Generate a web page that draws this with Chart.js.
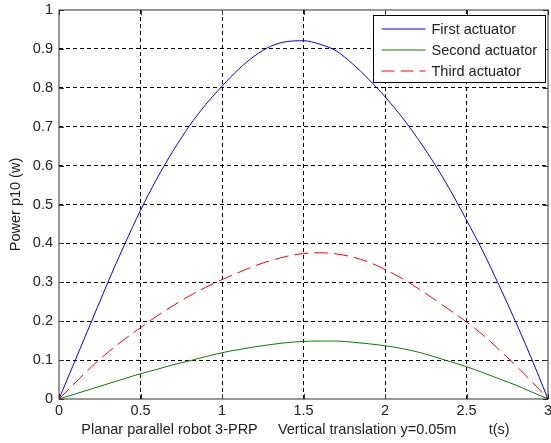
<!DOCTYPE html>
<html>
<head>
<meta charset="utf-8">
<script src="https://cdn.jsdelivr.net/npm/chart.js@4.4.0/dist/chart.umd.min.js"></script>
<style>
  html, body { margin: 0; padding: 0; background: #fff; }
  #wrap { width: 551px; height: 443px; }
</style>
</head>
<body>
<div id="wrap"><canvas id="powerChart"></canvas></div>
<script>
// t(s)
const timeValues = [0, 0.1, 0.2, 0.3, 0.4, 0.5, 0.6, 0.7, 0.8, 0.9, 1.0, 1.1, 1.2, 1.3, 1.4, 1.5,
    1.6, 1.7, 1.8, 1.9, 2.0, 2.1, 2.2, 2.3, 2.4, 2.5, 2.6, 2.7, 2.8, 2.9, 3.0];
// power p10 (w)
const firstActuator = [0, 0.1, 0.2, 0.3, 0.395, 0.485, 0.566, 0.638, 0.702, 0.757, 0.804, 0.847, 0.882, 0.907, 0.919, 0.921,
    0.912, 0.895, 0.862, 0.822, 0.777, 0.727, 0.67, 0.607, 0.537, 0.46, 0.38, 0.292, 0.2, 0.103, 0];
const secondActuator = [0, 0.013, 0.026, 0.039, 0.052, 0.065, 0.076, 0.088, 0.098, 0.109, 0.119, 0.127, 0.134, 0.14, 0.145, 0.148,
    0.149, 0.149, 0.146, 0.142, 0.137, 0.13, 0.121, 0.109, 0.096, 0.083, 0.068, 0.052, 0.036, 0.018, 0];
const thirdActuator = [0, 0.042, 0.083, 0.12, 0.153, 0.183, 0.213, 0.24, 0.265, 0.287, 0.307, 0.325, 0.342, 0.356, 0.367, 0.374,
    0.376, 0.373, 0.365, 0.352, 0.333, 0.311, 0.285, 0.257, 0.228, 0.198, 0.165, 0.127, 0.087, 0.045, 0];
const seriesLabels = ["First actuator", "Second actuator", "Third actuator"];

const FONT = "'Liberation Sans', Arial, sans-serif";
const FSIZE = 14.5;
const TEXT = "#222";
const styles = [
    { color: "#0000ff", dash: [] },
    { color: "#008000", dash: [] },
    { color: "#ff0000", dash: [14, 6] }
];

const toPoints = vals => vals.map((v, i) => ({ x: timeValues[i], y: v }));
const series = [firstActuator, secondActuator, thirdActuator];

const fmt = v => String(+(+v).toFixed(2));
const hideEdges = (lo, hi) => c => (c.tick && (Math.abs(c.tick.value - lo) < 1e-9 || Math.abs(c.tick.value - hi) < 1e-9)) ? "rgba(0,0,0,0)" : "#000";

// box, inward ticks and legend drawn like a matlab figure
const matlabFrame = {
    id: "matlabFrame",
    afterDatasetsDraw(chart) {
        const { ctx, chartArea: a, scales: { x, y } } = chart;
        ctx.save();
        ctx.setLineDash([]);
        ctx.lineWidth = 1;
        ctx.strokeStyle = "#333";
        ctx.beginPath();
        x.ticks.forEach(t => {
            const px = Math.round(x.getPixelForValue(t.value)) + 0.5;
            ctx.moveTo(px, a.bottom); ctx.lineTo(px, a.bottom - 5);
            ctx.moveTo(px, a.top); ctx.lineTo(px, a.top + 5);
        });
        y.ticks.forEach(t => {
            const py = Math.round(y.getPixelForValue(t.value)) + 0.5;
            ctx.moveTo(a.left, py); ctx.lineTo(a.left + 5, py);
            ctx.moveTo(a.right, py); ctx.lineTo(a.right - 5, py);
        });
        ctx.stroke();
        ctx.strokeRect(a.left, a.top, a.right - a.left, a.bottom - a.top);

        // legend
        ctx.font = FSIZE + "px " + FONT;
        const textW = Math.max(...seriesLabels.map(l => ctx.measureText(l).width));
        const boxW = Math.round(58 + textW + 8);
        const boxH = 67;
        const bx = Math.round(a.right - 3 - boxW) + 0.5;
        const by = Math.round(a.top + 5) + 0.5;
        ctx.fillStyle = "#fff";
        ctx.fillRect(bx, by, boxW, boxH);
        ctx.strokeStyle = "#000";
        ctx.strokeRect(bx, by, boxW, boxH);
        ctx.textBaseline = "middle";
        ctx.textAlign = "left";
        seriesLabels.forEach((label, i) => {
            const ry = Math.round(by + 13 + i * 21);
            ctx.strokeStyle = styles[i].color;
            ctx.setLineDash(i === 2 ? [13, 6] : []);
            ctx.beginPath();
            ctx.moveTo(bx + 8, ry); ctx.lineTo(bx + 52, ry);
            ctx.stroke();
            ctx.fillStyle = TEXT;
            ctx.fillText(label, bx + 58, ry + 1);
        });
        ctx.restore();
    }
};

new Chart(document.getElementById("powerChart"), {
    type: "line",
    data: {
        datasets: series.map((vals, i) => ({
            label: seriesLabels[i],
            data: toPoints(vals),
            borderColor: styles[i].color,
            borderDash: styles[i].dash,
            borderWidth: 1,
            pointRadius: 0,
            cubicInterpolationMode: "monotone",
            fill: false
        }))
    },
    plugins: [matlabFrame],
    options: {
        responsive: true,
        maintainAspectRatio: false,
        animation: false,
        devicePixelRatio: 1,
        layout: { padding: { top: 10, right: 3, bottom: 0, left: 0 } },
        plugins: {
            legend: { display: false },
            tooltip: { enabled: false }
        },
        scales: {
            x: {
                type: "linear",
                min: 0,
                max: 3,
                ticks: {
                    stepSize: 0.5,
                    color: TEXT,
                    font: { family: FONT, size: FSIZE },
                    padding: 3,
                    maxRotation: 0,
                    callback: fmt
                },
                grid: { color: hideEdges(0, 3), drawTicks: false },
                border: { display: false, dash: [4, 3] },
                title: {
                    display: true,
                    text: "Planar parallel robot 3-PRP     Vertical translation y=0.05m        t(s)    ",
                    color: TEXT,
                    font: { family: FONT, size: FSIZE },
                    padding: { top: 0, bottom: 4 }
                },
                afterFit(s) { s.height = 44; s.paddingLeft = 0; s.paddingRight = 0; }
            },
            y: {
                min: 0,
                max: 1,
                ticks: {
                    stepSize: 0.1,
                    color: TEXT,
                    font: { family: FONT, size: FSIZE },
                    padding: 6,
                    callback: fmt
                },
                grid: { color: hideEdges(0, 1), drawTicks: false },
                border: { display: false, dash: [4, 3] },
                title: {
                    display: true,
                    text: "Power p10 (w)",
                    color: TEXT,
                    font: { family: FONT, size: FSIZE },
                    padding: { top: 7, bottom: 0 }
                },
                afterFit(s) { s.width = 59; s.paddingTop = 0; s.paddingBottom = 0; }
            }
        }
    }
});
</script>
</body>
</html>
